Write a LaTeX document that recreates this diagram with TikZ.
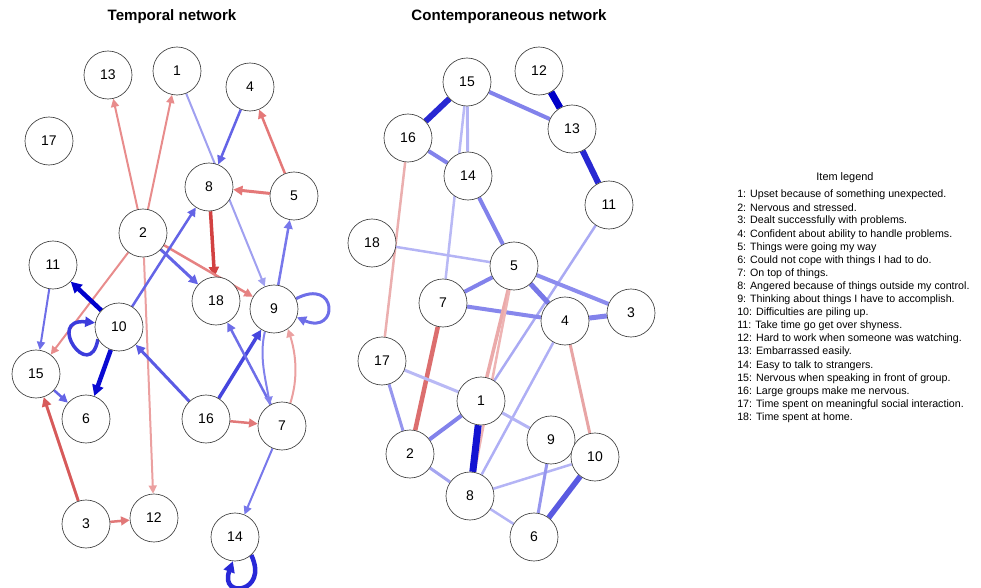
\documentclass[tikz,border=0pt]{standalone}
\usepackage{fontspec}
\setmainfont{Liberation Sans}
\usetikzlibrary{arrows.meta}
\pgfdeclarelayer{bg}
\pgfsetlayers{bg,main}
\begin{document}
\begin{tikzpicture}[x=0.75pt,y=-0.75pt,
  nd/.style={circle,draw=black!75,line width=0.5pt,fill=white,minimum size=36pt,inner sep=0pt,font=\fontsize{10.5}{12}\selectfont},
  ed/.style n args={4}{draw={rgb,255:red,#1;green,#2;blue,#3},line width=#4*0.75pt},
  ar/.style={-{Triangle[length=4.5pt 1.1,width=4pt 1.3]}},
  ttl/.style={font=\bfseries\fontsize{11.3}{13}\selectfont},
  lg/.style={anchor=west,inner sep=0pt,font=\fontsize{8}{9.8}\selectfont}]
\useasboundingbox (0,0) rectangle (981,588);

% titles
\node[ttl] (tt1) at (172,17) {Temporal network};
\node[ttl] (tt2) at (509,17) {Contemporaneous network};

% temporal nodes
\node[nd] (t13) at (108,75) {13};
\node[nd] (t1) at (177,71) {1};
\node[nd] (t4) at (250,87) {4};
\node[nd] (t17) at (49,141) {17};
\node[nd] (t8) at (209,187) {8};
\node[nd] (t5) at (294,196) {5};
\node[nd] (t2) at (143,233) {2};
\node[nd] (t11) at (53,265) {11};
\node[nd] (t18) at (216,301) {18};
\node[nd] (t9) at (274,309) {9};
\node[nd] (t10) at (119,327) {10};
\node[nd] (t15) at (36,374) {15};
\node[nd] (t6) at (86,419) {6};
\node[nd] (t16) at (206,419) {16};
\node[nd] (t7) at (282,426) {7};
\node[nd] (t3) at (86,524) {3};
\node[nd] (t12) at (154,518) {12};
\node[nd] (t14) at (235,537) {14};

% contemporaneous nodes
\node[nd] (c15) at (467,82) {15};
\node[nd] (c12) at (539,71) {12};
\node[nd] (c16) at (408,138) {16};
\node[nd] (c13) at (572,129) {13};
\node[nd] (c14) at (468,176) {14};
\node[nd] (c11) at (609,205) {11};
\node[nd] (c18) at (372,243) {18};
\node[nd] (c5) at (514,266) {5};
\node[nd] (c7) at (443,303) {7};
\node[nd] (c4) at (565,321) {4};
\node[nd] (c3) at (631,313) {3};
\node[nd] (c17) at (382,361) {17};
\node[nd] (c1) at (481,401) {1};
\node[nd] (c9) at (551,440) {9};
\node[nd] (c2) at (410,454) {2};
\node[nd] (c10) at (595,457) {10};
\node[nd] (c8) at (470,496) {8};
\node[nd] (c6) at (534,537) {6};

\begin{pgfonlayer}{bg}
% temporal edges
\draw[ed={232}{140}{140}{2},ar] (t2) -- (t13);
\draw[ed={232}{140}{140}{2},ar] (t2) -- (t1);
\draw[ed={160}{160}{240}{2},ar] (t1) -- (t9);
\draw[ed={100}{100}{230}{2.5},ar] (t4) -- (t8);
\draw[ed={228}{120}{120}{2.5},ar] (t5) -- (t4);
\draw[ed={228}{120}{120}{3},ar] (t5) -- (t8);
\draw[ed={210}{65}{65}{3.5},ar] (t8) -- (t18);
\draw[ed={100}{100}{230}{3},ar] (t2) -- (t18);
\draw[ed={230}{130}{130}{2.5},ar] (t2) -- (t9);
\draw[ed={232}{140}{140}{2},ar] (t2) -- (t15);
\draw[ed={235}{160}{160}{2},ar] (t2) -- (t12);
\draw[ed={100}{100}{230}{2.5},ar] (t10) -- (t8);
\draw[ed={0}{0}{205}{4.5},ar] (t10) -- (t11);
\draw[ed={10}{10}{210}{4.5},ar] (t10) -- (t6);
\draw[ed={60}{60}{220}{3.5},ar] (t10.-150) .. controls +(-8,45) and +(-50,-5) .. (t10.170);
\draw[ed={110}{110}{232}{2},ar] (t11) -- (t15);
\draw[ed={100}{100}{230}{2.5},ar] (t15) -- (t6);
\draw[ed={215}{90}{90}{3},ar] (t3) -- (t15);
\draw[ed={225}{120}{120}{2.5},ar] (t3) -- (t12);
\draw[ed={90}{90}{228}{3},ar] (t16) -- (t10);
\draw[ed={70}{70}{222}{3.5},ar] (t16) -- (t9);
\draw[ed={225}{120}{120}{2.5},ar] (t16) -- (t7);
\draw[ed={110}{110}{232}{2.5},ar] (t7) -- (t18);
\draw[ed={120}{120}{235}{2.5},ar] (t9) -- (t5);
\draw[ed={110}{110}{232}{3},ar] (t9.25) .. controls +(42,-22) and +(42,18) .. (t9.-20);
\draw[ed={130}{130}{236}{2},ar] (t9.-112) .. controls +(-6,25) and +(-4,-25) .. (t7.120);
\draw[ed={235}{160}{160}{2},ar] (t7.70) .. controls +(8,-25) and +(8,25) .. (t9.-55);
\draw[ed={120}{120}{235}{2},ar] (t7) -- (t14);
\draw[ed={40}{40}{215}{4.5},ar] (t14.-48) .. controls +(18,38) and +(-14,38) .. (t14.-95);

% contemporaneous edges
\draw[ed={40}{40}{210}{6}] (c15) -- (c16);
\draw[ed={130}{130}{235}{4}] (c15) -- (c13);
\draw[ed={180}{180}{245}{3}] (c15) -- (c14);
\draw[ed={185}{185}{245}{2.5}] (c15) -- (c7);
\draw[ed={0}{0}{200}{7}] (c12) -- (c13);
\draw[ed={40}{40}{210}{6}] (c13) -- (c11);
\draw[ed={130}{130}{235}{4}] (c16) -- (c14);
\draw[ed={235}{175}{175}{2.5}] (c16) -- (c17);
\draw[ed={130}{130}{235}{4}] (c14) -- (c5);
\draw[ed={180}{180}{245}{2.5}] (c18) -- (c5);
\draw[ed={170}{170}{243}{2.5}] (c11) -- (c1);
\draw[ed={130}{130}{235}{4}] (c5) -- (c7);
\draw[ed={120}{120}{232}{5}] (c5) -- (c4);
\draw[ed={140}{140}{238}{4}] (c5) -- (c3);
\draw[ed={135}{135}{236}{4}] (c7) -- (c4);
\draw[ed={130}{130}{235}{5}] (c4) -- (c3);
\draw[ed={235}{170}{170}{3.5}] (c5) -- (c1);
\draw[ed={238}{180}{180}{2.5}] (c5) -- (c8);
\draw[ed={175}{175}{245}{2.5}] (c4) -- (c8);
\draw[ed={232}{165}{165}{3}] (c4) -- (c10);
\draw[ed={220}{110}{110}{4.5}] (c7) -- (c2);
\draw[ed={185}{185}{245}{3}] (c17) -- (c1);
\draw[ed={150}{150}{238}{3}] (c17) -- (c2);
\draw[ed={130}{130}{235}{4}] (c1) -- (c2);
\draw[ed={20}{20}{210}{7}] (c1) -- (c8);
\draw[ed={180}{180}{245}{3}] (c1) -- (c9);
\draw[ed={165}{165}{240}{3}] (c2) -- (c8);
\draw[ed={180}{180}{245}{2.5}] (c8) -- (c10);
\draw[ed={180}{180}{245}{2.5}] (c8) -- (c6);
\draw[ed={150}{150}{238}{3}] (c9) -- (c6);
\draw[ed={90}{90}{225}{5.5}] (c10) -- (c6);
\end{pgfonlayer}

% legend
\node[font=\fontsize{8.2}{9.8}\selectfont] (lgt) at (845,178) {Item legend};
\node[lg] (l1) at (737,195.0) {1: Upset because of something unexpected.};
\node[lg] (l2) at (737,208.1) {2: Nervous and stressed.};
\node[lg] (l3) at (737,221.2) {3: Dealt successfully with problems.};
\node[lg] (l4) at (737,234.3) {4: Confident about ability to handle problems.};
\node[lg] (l5) at (737,247.4) {5: Things were going my way};
\node[lg] (l6) at (737,260.5) {6: Could not cope with things I had to do.};
\node[lg] (l7) at (737,273.6) {7: On top of things.};
\node[lg] (l8) at (737,286.7) {8: Angered because of things outside my control.};
\node[lg] (l9) at (737,299.8) {9: Thinking about things I have to accomplish.};
\node[lg] (l10) at (737,312.9) {10: Difficulties are piling up.};
\node[lg] (l11) at (737,326.0) {11: Take time go get over shyness.};
\node[lg] (l12) at (737,339.1) {12: Hard to work when someone was watching.};
\node[lg] (l13) at (737,352.2) {13: Embarrassed easily.};
\node[lg] (l14) at (737,365.3) {14: Easy to talk to strangers.};
\node[lg] (l15) at (737,378.4) {15: Nervous when speaking in front of group.};
\node[lg] (l16) at (737,391.5) {16: Large groups make me nervous.};
\node[lg] (l17) at (737,404.6) {17: Time spent on meaningful social interaction.};
\node[lg] (l18) at (737,417.7) {18: Time spent at home.};
\end{tikzpicture}
\end{document}
